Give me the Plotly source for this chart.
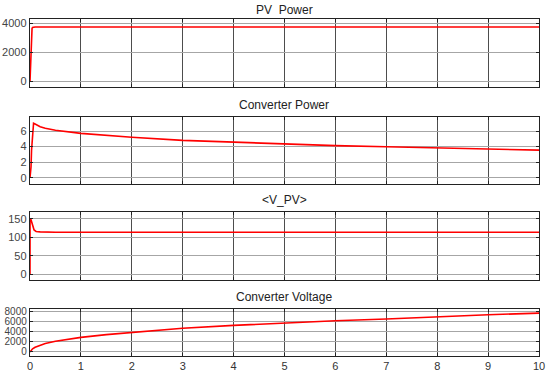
import plotly.graph_objects as go

# ---- data ----
t_pv = [0, 0.01, 0.02, 0.03, 0.04, 0.05, 0.07, 0.1, 1, 2, 3, 4, 5, 6, 7, 8, 9, 10]
pv_power = [0, 1200, 2600, 3400, 3650, 3720, 3750, 3750, 3750, 3750, 3750, 3750, 3750, 3750, 3750, 3750, 3750, 3750]

t_cp = [0, 0.02, 0.03, 0.05, 0.07, 0.1, 0.2, 0.3, 0.5, 1, 2, 3, 4, 5, 6, 7, 8, 9, 10]
conv_power = [0, 1.4, 3.5, 6.2, 7.0, 6.9, 6.55, 6.35, 6.1, 5.7, 5.2, 4.8, 4.55, 4.32, 4.12, 3.98, 3.83, 3.68, 3.55]

t_v = [0, 0.001, 0.02, 0.05, 0.08, 0.12, 0.2, 0.5, 1, 2, 3, 4, 5, 6, 7, 8, 9, 10]
v_pv = [0, 150, 148, 132, 120, 116, 115, 114, 114, 114, 114, 114, 114, 114, 114, 114, 114, 114]

t_cv = [0, 0.02, 0.05, 0.1, 0.2, 0.3, 0.5, 0.75, 1, 1.5, 2, 3, 4, 5, 6, 7, 8, 9, 10]
conv_voltage = [0, 350, 600, 900, 1350, 1650, 2100, 2500, 2850, 3380, 3840, 4620, 5200, 5720, 6100, 6440, 6890, 7280, 7600]

titles = ["PV  Power", "Converter Power", "<V_PV>", "Converter Voltage"]
y_ticks = [[0, 2000, 4000], [0, 2, 4, 6], [0, 50, 100, 150], [0, 2000, 4000, 6000, 8000]]
y_ranges = [[-400, 4300], [-0.8, 7.8], [-16, 169], [-800, 8400]]
x_ticks = list(range(0, 11))

series = [(t_pv, pv_power), (t_cp, conv_power), (t_v, v_pv), (t_cv, conv_voltage)]

W, H = 550, 373
panels_px = [(19, 87), (117, 184), (212, 280), (309, 356)]
title_px = [10, 105, 200, 297]
y_font = [11, 11, 11, 10]

fig = go.Figure()
x_dom = [30 / W, 539 / W]
for i, ((tx, ty), (top, bot)) in enumerate(zip(series, panels_px)):
    n = i + 1
    xa = "x" if n == 1 else f"x{n}"
    ya = "y" if n == 1 else f"y{n}"
    fig.add_trace(go.Scatter(x=tx, y=ty, mode="lines", line=dict(color="#ff0000", width=1.6),
                             xaxis=xa, yaxis=ya, showlegend=False, hoverinfo="skip"))
    dom = [1 - bot / H, 1 - top / H]
    fig.layout[f"xaxis{'' if n == 1 else n}"] = dict(
        domain=x_dom, range=[0, 10], anchor=ya, tickvals=x_ticks, automargin=False,
        showticklabels=(n == 4), showgrid=True, gridcolor="#4d4d4d", gridwidth=1,
        showline=True, linecolor="#222", linewidth=1.4, mirror="ticks", ticks="inside",
        ticklen=3, tickcolor="#222", zeroline=False,
        tickfont=dict(family="Liberation Sans, Arial", size=11, color="#333"),
    )
    fig.layout[f"yaxis{'' if n == 1 else n}"] = dict(
        domain=dom, range=y_ranges[i], anchor=xa, tickvals=y_ticks[i], automargin=False,
        showgrid=True, gridcolor="#a6a6a6", gridwidth=1,
        showline=True, linecolor="#222", linewidth=1.4, mirror="ticks", ticks="inside",
        ticklen=3, tickcolor="#222", zeroline=False,
        tickfont=dict(family="Liberation Sans, Arial", size=y_font[i], color="#444"),
    )
    fig.add_annotation(text=titles[i], x=(30 + 539) / 2 / W, y=1 - title_px[i] / H,
                       xref="paper", yref="paper", showarrow=False, yanchor="middle",
                       font=dict(family="Liberation Sans, Arial", size=12, color="#222"))

fig.update_layout(width=W, height=H, margin=dict(l=0, r=0, t=0, b=0, autoexpand=False),
                  paper_bgcolor="white", plot_bgcolor="white")
fig.write_html("out.html", config={"displayModeBar": False},
               post_script="document.body.style.margin='0';document.documentElement.style.overflow='hidden';")
